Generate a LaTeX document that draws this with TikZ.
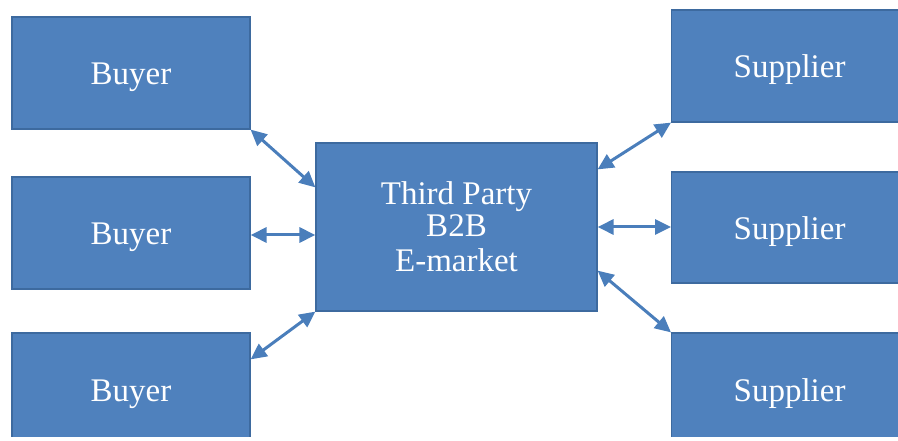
\documentclass[tikz,border=0pt]{standalone}
\usepackage{fontspec}
\setmainfont{Liberation Serif}
\usetikzlibrary{arrows.meta}
\definecolor{boxfill}{HTML}{4F81BD}
\definecolor{boxline}{HTML}{3D6A9F}
\definecolor{linkcol}{HTML}{4A7EBB}
\tikzset{
  party/.style={rectangle, fill=boxfill, draw=boxline, line width=1.2pt,
    minimum width=238pt, minimum height=112pt, inner sep=0pt,
    text=white, font=\fontsize{33}{35}\selectfont, align=center},
  oneline/.style={text height=24pt, text depth=0pt},
  link/.style={draw=linkcol, line width=3pt,
    {Triangle[length=16pt,width=15pt]}-{Triangle[length=16pt,width=15pt]}}
}
\begin{document}
\begin{tikzpicture}[x=1pt,y=-1pt]
\useasboundingbox (0,0) rectangle (898,441);
\clip (0,0) rectangle (898,436);
% buyers on the left
\node[party, oneline] (b1) at (131,73) {Buyer};
\node[party, oneline] (b2) at (131,233) {Buyer};
\node[party, oneline] (b3) at (131,389) {Buyer};
% the e-market in the middle
\node[party, minimum width=281pt, minimum height=168pt] (m) at (456.5,227)
  {\raisebox{-3pt}{Third Party}\\B2B\\E-market};
% suppliers on the right (they run past the right edge)
\node[party, oneline, minimum width=260pt, anchor=west] (s1) at (671,66) {\hspace*{-24pt}Supplier};
\node[party, oneline, minimum width=260pt, minimum height=111pt, anchor=west] (s2) at (671,227.5) {\hspace*{-24pt}Supplier};
\node[party, oneline, minimum width=260pt, anchor=west] (s3) at (671,389) {\hspace*{-24pt}Supplier};
% two-way links
\draw[link] (b1.south east) -- ([yshift=-45pt]m.north west);
\draw[link] ([yshift=-2pt]b2.east) -- ([yshift=-2pt]b2.east -| m.west);
\draw[link] ([yshift=-27pt]b3.north east) -- (m.south west);
\draw[link] ([yshift=-27pt]m.north east) -- (s1.south west);
\draw[link] (m.east) -- (m.east -| s2.west);
\draw[link] ([yshift=41pt]m.south east) -- (s3.north west);
\end{tikzpicture}
\end{document}
